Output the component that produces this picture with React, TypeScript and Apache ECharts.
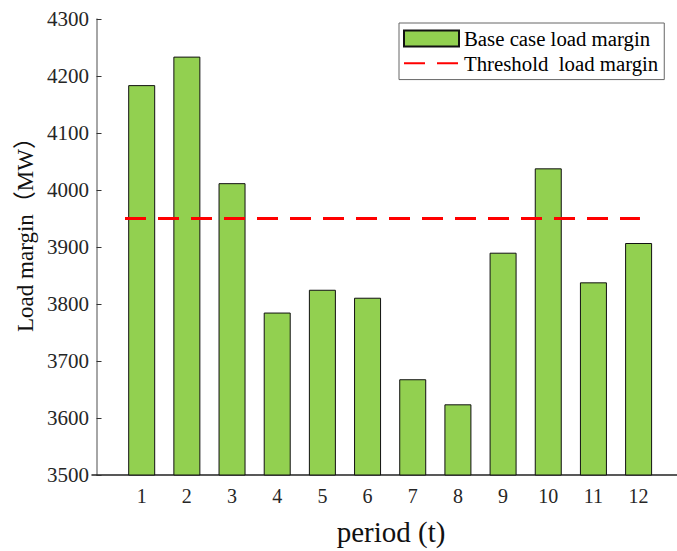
import React, { useEffect, useRef } from "react";
import * as echarts from "echarts";

const periods = [1, 2, 3, 4, 5, 6, 7, 8, 9, 10, 11, 12];
const baseMargin = [4184, 4234, 4012, 3785, 3825, 3811, 3668, 3624, 3890, 4038, 3838, 3907];
const thresholdValue = 3950;
const thresholdSpan = [0.63, 12.03];
const yTicks = { min: 3500, max: 4300, step: 100 };
const seriesNames = ["Base case load margin", "Threshold  load margin"];
const xTitle = "period (t)";
const yTitle = "Load margin（MW）";

const FONT = "Liberation Serif, Times New Roman, Noto Sans CJK SC, serif";

export default function App() {
  const ref = useRef<HTMLDivElement>(null);
  useEffect(() => {
    if (!ref.current) return;
    const chart = echarts.init(ref.current, undefined, { renderer: "svg" });
    chart.setOption({
      animation: false,
      backgroundColor: "#ffffff",
      textStyle: { fontFamily: FONT },
      grid: { left: 92, right: 0, top: 19, bottom: 66, containLabel: false },
      legend: {
        left: 399,
        top: 23,
        orient: "vertical",
        data: [
          { name: seriesNames[0], icon: "rect" },
          { name: seriesNames[1] },
        ],
        borderColor: "#666",
        borderWidth: 1,
        padding: [5, 6, 6, 4],
        itemWidth: 55,
        itemHeight: 16,
        itemGap: 4,
        textStyle: { fontFamily: FONT, fontSize: 20.8, color: "#000", lineHeight: 20 },
      },
      xAxis: {
        type: "value",
        min: -0.1,
        max: 12.85,
        axisLine: { show: true, lineStyle: { color: "#222", width: 1.5 } },
        axisTick: {
          show: true,
          inside: true,
          length: 5,
          customValues: periods,
          lineStyle: { color: "#555", width: 1 },
        },
        axisLabel: {
          customValues: periods,
          fontFamily: FONT,
          fontSize: 20,
          color: "#262626",
          margin: 11,
        },
        splitLine: { show: false },
        name: xTitle,
        nameLocation: "middle",
        nameGap: 42,
        nameTextStyle: { fontFamily: FONT, fontSize: 29, color: "#111", padding: [0, 0, 0, 13] },
      },
      yAxis: {
        type: "value",
        min: yTicks.min,
        max: yTicks.max,
        interval: yTicks.step,
        axisLine: { show: true, lineStyle: { color: "#888", width: 1.5 } },
        axisTick: { show: true, inside: true, length: 5, lineStyle: { color: "#333", width: 1 } },
        axisLabel: {
          fontFamily: FONT,
          fontSize: 21,
          color: "#262626",
          margin: 3,
          formatter: (v: number) => String(v),
        },
        splitLine: { show: false },
      },
      graphic: [
        {
          type: "text",
          x: 25,
          y: 229,
          rotation: Math.PI / 2,
          style: {
            text: yTitle,
            fontFamily: FONT,
            fontSize: 23,
            fill: "#111",
            textAlign: "center",
            textVerticalAlign: "middle",
          },
        },
      ],
      series: [
        {
          name: seriesNames[0],
          type: "bar",
          barWidth: 27,
          data: periods.map((p, i) => [p, baseMargin[i]]),
          itemStyle: { color: "#92D050", borderColor: "#111", borderWidth: 1 },
        },
        {
          name: seriesNames[1],
          type: "line",
          symbol: "none",
          data: thresholdSpan.map((x) => [x, thresholdValue]),
          lineStyle: { color: "#ff0000", width: 3, type: [21, 12] },
          itemStyle: { color: "rgba(0,0,0,0)" },
          z: 5,
        },
      ],
    });
    return () => chart.dispose();
  }, []);
  return (
    <div
      ref={ref}
      style={{ position: "absolute", left: 0, top: 0, width: 677, height: 551, background: "#fff" }}
    />
  );
}
